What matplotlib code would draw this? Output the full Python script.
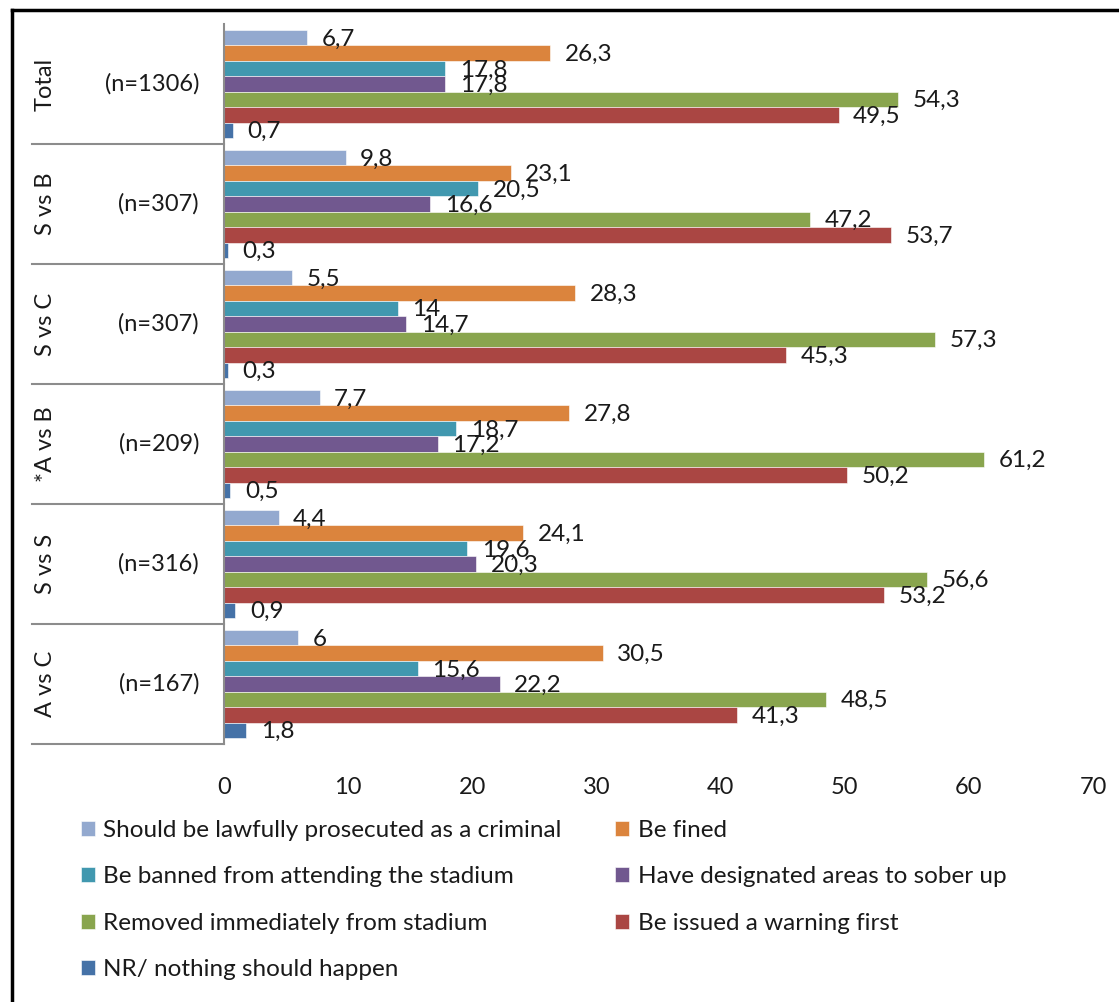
import numpy as np
import matplotlib.pyplot as plt
from matplotlib.lines import Line2D

plt.rcParams['font.family'] = ['Lato', 'DejaVu Sans']

# groups (top to bottom) and sample sizes
groups = ['Total', 'S vs B', 'S vs C', '*A vs B', 'S vs S', 'A vs C']
sizes = ['(n=1306)', '(n=307)', '(n=307)', '(n=209)', '(n=316)', '(n=167)']

series = ['Should be lawfully prosecuted as a criminal', 'Be fined',
          'Be banned from attending the stadium', 'Have designated areas to sober up',
          'Removed immediately from stadium', 'Be issued a warning first',
          'NR/ nothing should happen']
colors = ['#93A9CF', '#DB843D', '#4198AF', '#71588F', '#89A54E', '#AA4643', '#4572A7']

prosecuted = [6.7, 9.8, 5.5, 7.7, 4.4, 6]
fined = [26.3, 23.1, 28.3, 27.8, 24.1, 30.5]
banned = [17.8, 20.5, 14, 18.7, 19.6, 15.6]
sober_up = [17.8, 16.6, 14.7, 17.2, 20.3, 22.2]
removed = [54.3, 47.2, 57.3, 61.2, 56.6, 48.5]
warning = [49.5, 53.7, 45.3, 50.2, 53.2, 41.3]
nothing = [0.7, 0.3, 0.3, 0.5, 0.9, 1.8]
values = [prosecuted, fined, banned, sober_up, removed, warning, nothing]

FS = 17
TXT = '#1a1a1a'
GRID = '#8c8c8c'

W, H = 1119, 1002
fig = plt.figure(figsize=(W / 100, H / 100), dpi=100)
ax = fig.add_axes([224 / W, 1 - 744 / H, (1093 - 224) / W, 720 / H])

n_ser = len(series)
pad = 0.05
bh = (1 - 2 * pad) / n_ser
handles = []
for j, (name, col, vals) in enumerate(zip(series, colors, values)):
    ys = np.arange(len(groups)) + pad + bh * (j + 0.5)
    bars = ax.barh(ys, vals, height=bh, color=col, edgecolor='white', linewidth=0.4, label=name)
    handles.append(bars)
    for y, v in zip(ys, vals):
        txt = ('%g' % v).replace('.', ',')
        ax.annotate(txt, (v, y), xytext=(10.5, -1), textcoords='offset points',
                    ha='left', va='center', fontsize=17.5, color=TXT)

ax.set_xlim(0, 70)
ax.set_ylim(len(groups), 0)
ax.set_xticks(range(0, 71, 10))
ax.tick_params(axis='x', length=0, labelsize=FS, pad=24, colors=TXT)
ax.set_yticks([])
for s in ['top', 'right', 'bottom']:
    ax.spines[s].set_visible(False)
ax.spines['left'].set_color(GRID)
ax.spines['left'].set_linewidth(1.5)

# category labels with separators on the left
span = 1093 - 224
ytr = ax.get_yaxis_transform()
for i, (g, n) in enumerate(zip(groups, sizes)):
    ax.plot([(32 - 224) / span, 0], [i + 1, i + 1], color=GRID, lw=1.5,
            transform=ytr, clip_on=False)
    ax.text((45 - 224) / span, i + 0.5, g, rotation=90, ha='center', va='center',
            fontsize=FS, color=TXT, transform=ytr)
    ax.text((199 - 224) / span, i + 0.5, n, ha='right', va='center',
            fontsize=FS, color=TXT, transform=ytr)

# legend: column-wise fill gives row order across two columns
order = [0, 2, 4, 6, 1, 3, 5]
leg = fig.legend([handles[k] for k in order], [series[k] for k in order], ncol=2,
                 loc='upper left', bbox_to_anchor=(71 / W, 1 - 810 / H), frameon=False,
                 fontsize=17.5, handlelength=0.58, handleheight=0.58, handletextpad=0.35,
                 labelspacing=1.05, columnspacing=2.2, borderaxespad=0)
for t in leg.get_texts():
    t.set_color(TXT)

# outer frame
fig.add_artist(Line2D([12 / W, 1], [1 - 10 / H, 1 - 10 / H], color='black', lw=2.5))
fig.add_artist(Line2D([12 / W, 12 / W], [0, 1 - 10 / H], color='black', lw=2.5))

fig.savefig('out.png', dpi=100)
